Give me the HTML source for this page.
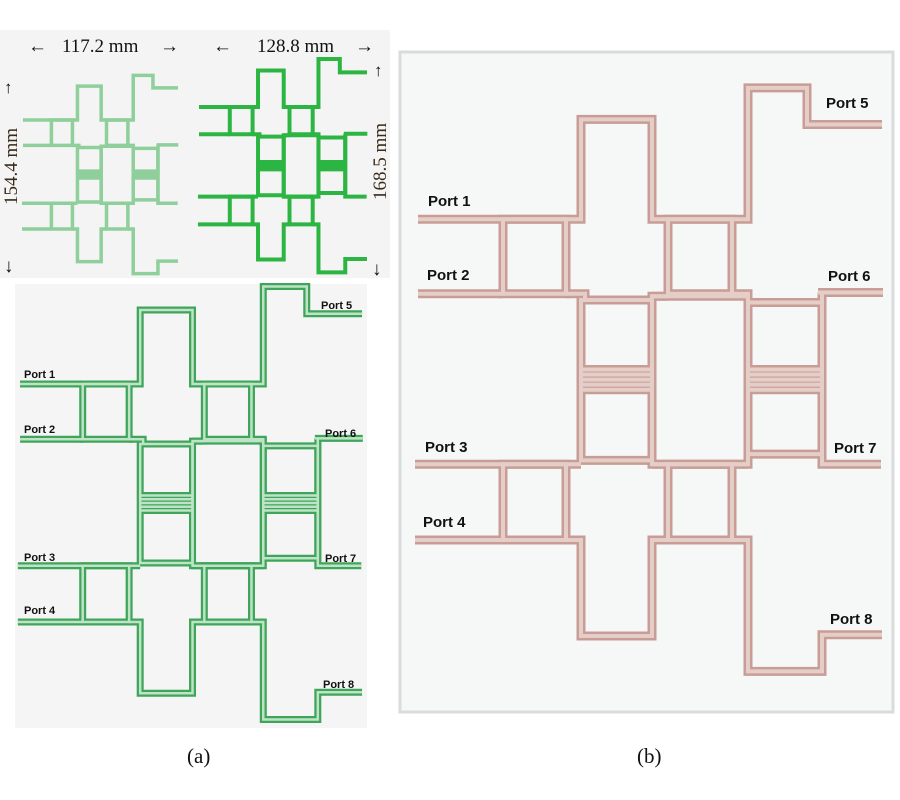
<!DOCTYPE html>
<html><head><style>
html,body{margin:0;padding:0;background:#fff;}
svg{display:block;}
.pl{font-family:"Liberation Sans",sans-serif;font-weight:bold;}
.sf{font-family:"Liberation Serif",serif;}
</style></head><body>
<svg width="900" height="800" viewBox="0 0 900 800" xmlns="http://www.w3.org/2000/svg">
<defs>
<g id="lay" fill="none" stroke-linejoin="miter">
<path vector-effect="non-scaling-stroke" d="M418 184 H581 V105 H652 V184 H748 V80 H807 V109 H882"/>
<rect vector-effect="non-scaling-stroke" x="503" y="184" width="63" height="59"/>
<rect vector-effect="non-scaling-stroke" x="668" y="184" width="64" height="59"/>
<path vector-effect="non-scaling-stroke" d="M418 243 H503 M566 243 H585 V248"/>
<path vector-effect="non-scaling-stroke" d="M652 245 H668 M732 243 H748 V250"/>
<rect vector-effect="non-scaling-stroke" x="581" y="248" width="71" height="127"/>
<rect vector-effect="non-scaling-stroke" x="652" y="245" width="96" height="133"/>
<rect vector-effect="non-scaling-stroke" x="748" y="250" width="74" height="120"/>
<path vector-effect="non-scaling-stroke" d="M818 242 H883 M822 242 V378 H881"/>
<path vector-effect="non-scaling-stroke" d="M581 303 H652 M581 307 H652 M581 311 H652 M581 315 H652 M581 319 H652 M748 303 H822 M748 307 H822 M748 311 H822 M748 315 H822 M748 319 H822"/>
<path vector-effect="non-scaling-stroke" d="M415 378 H581 M652 378 H748"/>
<rect vector-effect="non-scaling-stroke" x="503" y="378" width="63" height="60"/>
<rect vector-effect="non-scaling-stroke" x="668" y="378" width="64" height="60"/>
<path vector-effect="non-scaling-stroke" d="M415 438 H503 M566 438 H581 V514 H652 V438 H668"/>
<path vector-effect="non-scaling-stroke" d="M732 438 H748 V542 H822 V513 H882"/>
</g>
</defs>
<rect x="0" y="30" width="390" height="248" fill="#f4f4f4"/>
<rect x="15" y="284" width="352" height="444" fill="#f5f5f5"/>
<rect x="400" y="52" width="493" height="660" fill="#f6f8f8" stroke="#d8dcdc" stroke-width="3"/>

<use href="#lay" transform="translate(-116.6,41.1) scale(0.334,0.429)" stroke="#8fcf9c" stroke-width="3.5"/>
<use href="#lay" transform="translate(47.7,22) scale(0.362,0.462)" stroke="#2db543" stroke-width="4"/>
<use href="#lay" transform="translate(-288,211.6) scale(0.737,0.937)" stroke="#3ea55a" stroke-width="7"/>
<use href="#lay" transform="translate(-288,211.6) scale(0.737,0.937)" stroke="#bfe3c6" stroke-width="2.5"/>
<use href="#lay" transform="translate(0,-13.2) scale(1,1.263)" stroke="#c79d95" stroke-width="9"/>
<use href="#lay" transform="translate(0,-13.2) scale(1,1.263)" stroke="#e6cec8" stroke-width="4"/>

<g class="sf" font-size="19" fill="#111">
<text x="28" y="52">←</text><text x="62" y="52">117.2 mm</text><text x="160" y="52">→</text>
<text x="213" y="52">←</text><text x="257" y="52">128.8 mm</text><text x="355" y="52">→</text>
<text x="4" y="93" font-size="17">↑</text><text x="4" y="272">↓</text>
<text x="374" y="76" font-size="17">↑</text><text x="372" y="275">↓</text>
<text transform="translate(17,205) rotate(-90)" fill="#3a2a1a">154.4 mm</text>
<text transform="translate(386,200) rotate(-90)" fill="#3a2a1a">168.5 mm</text>
<text x="187" y="763" font-size="21">(a)</text>
<text x="637" y="763" font-size="21">(b)</text>
</g>
<g class="pl" font-size="11" fill="#111">
<text x="24" y="378">Port 1</text><text x="24" y="433">Port 2</text>
<text x="24" y="561">Port 3</text><text x="24" y="614">Port 4</text>
<text x="321" y="309">Port 5</text><text x="325" y="437">Port 6</text>
<text x="325" y="562">Port 7</text><text x="323" y="688">Port 8</text>
</g>
<g class="pl" font-size="15" fill="#111">
<text x="428" y="206">Port 1</text><text x="427" y="280">Port 2</text>
<text x="425" y="452">Port 3</text><text x="423" y="527">Port 4</text>
<text x="826" y="108">Port 5</text><text x="828" y="281">Port 6</text>
<text x="834" y="453">Port 7</text><text x="830" y="624">Port 8</text>
</g>
</svg>
</body></html>
